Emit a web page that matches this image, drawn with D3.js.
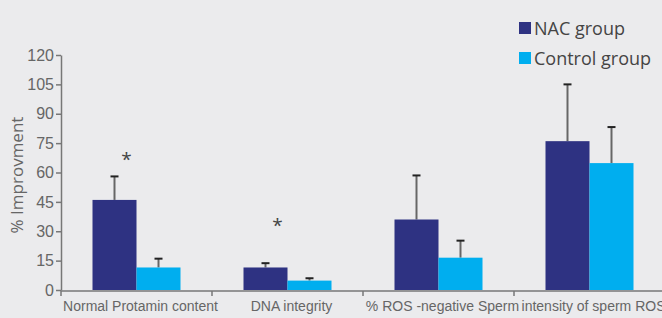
<!DOCTYPE html>
<head>
  <meta charset="utf-8">
  <script src="https://d3js.org/d3.v7.min.js"></script>
  <style>
    body { margin:0; background:#ebebed; }
    svg { display:block; font-family:'Open Sans', sans-serif; }
  </style>
</head>
<body>
  <svg width="662" height="318"></svg>
  <script>
    var categories = ['Normal Protamin content', 'DNA integrity', '% ROS -negative Sperm', 'intensity of sperm ROS'];
    var series = ['NAC group', 'Control group'];
    var nacValues = [46, 11.5, 36, 76];
    var nacErrors = [58, 13.7, 58.5, 105];
    var controlValues = [11.5, 4.8, 16.5, 64.8];
    var controlErrors = [16, 6, 25.2, 83.2];
    var yTicks = [0, 15, 30, 45, 60, 75, 90, 105, 120];
    var stars = [{cat: 'Normal Protamin content', value: 69}, {cat: 'DNA integrity', value: 35}];
    var colors = ['#2e3282', '#00aeef'];

    var width = 662, height = 318;
    var margin = {top: 55, bottom: 28, left: 61};

    var svg = d3.select('svg');

    var xScale = d3.scaleBand()
      .domain(categories)
      .range([margin.left, margin.left + 151 * 4]);

    var yScale = d3.scaleLinear()
      .domain([0, 120])
      .range([290, margin.top]);

    var barW = 44;

    var rows = categories.map((c, i) => ({
      cat: c,
      vals: [
        {s: 0, v: nacValues[i], e: nacErrors[i]},
        {s: 1, v: controlValues[i], e: controlErrors[i]}
      ]
    }));

    var groups = svg.selectAll('g.cat')
      .data(rows)
      .enter().append('g')
      .attr('class', 'cat');

    // error bars
    groups.selectAll('line.err')
      .data(d => d.vals.map(v => Object.assign({cat: d.cat}, v)))
      .enter().append('line')
      .attr('x1', d => xScale(d.cat) + xScale.bandwidth() / 2 + (d.s - 0.5) * barW)
      .attr('x2', d => xScale(d.cat) + xScale.bandwidth() / 2 + (d.s - 0.5) * barW)
      .attr('y1', d => yScale(d.v))
      .attr('y2', d => yScale(d.e))
      .attr('stroke', '#666')
      .attr('stroke-width', 2);

    groups.selectAll('line.cap')
      .data(d => d.vals.map(v => Object.assign({cat: d.cat}, v)))
      .enter().append('line')
      .attr('x1', d => xScale(d.cat) + xScale.bandwidth() / 2 + (d.s - 0.5) * barW - 4)
      .attr('x2', d => xScale(d.cat) + xScale.bandwidth() / 2 + (d.s - 0.5) * barW + 4)
      .attr('y1', d => yScale(d.e))
      .attr('y2', d => yScale(d.e))
      .attr('stroke', '#222')
      .attr('stroke-width', 2);

    // bars
    groups.selectAll('rect')
      .data(d => d.vals.map(v => Object.assign({cat: d.cat}, v)))
      .enter().append('rect')
      .attr('x', d => xScale(d.cat) + xScale.bandwidth() / 2 - barW + d.s * barW)
      .attr('y', d => yScale(d.v))
      .attr('width', barW)
      .attr('height', d => yScale(0) - yScale(d.v))
      .attr('fill', d => colors[d.s]);

    // axes
    var yAxis = d3.axisLeft(yScale).tickValues(yTicks).tickSize(5).tickSizeOuter(0);
    var gy = svg.append('g')
      .attr('transform', 'translate(' + margin.left + ',0)')
      .call(yAxis);
    gy.select('.domain').attr('stroke', '#777').attr('stroke-width', 1.5);
    gy.selectAll('.tick line').attr('stroke', '#777').attr('stroke-width', 1.5);
    gy.selectAll('.tick text')
      .attr('fill', '#666')
      .attr('font-size', 16)
      .attr('x', -7);

    var xAxis = d3.axisBottom(xScale).tickSize(0).tickSizeOuter(0);
    var gx = svg.append('g')
      .attr('transform', 'translate(0,' + (yScale(0) + 1) + ')')
      .call(xAxis);
    gx.select('.domain').attr('d', 'M' + margin.left + ',0H' + width).attr('stroke', '#777').attr('stroke-width', 1.5);
    gx.selectAll('.tick text')
      .attr('fill', '#666')
      .attr('font-size', 14)
      .attr('x', 4)
      .attr('dy', '1.2em');
    // separators between categories
    gx.selectAll('line.sep')
      .data(categories.slice(1))
      .enter().append('line')
      .attr('x1', d => xScale(d))
      .attr('x2', d => xScale(d))
      .attr('y1', 0)
      .attr('y2', 5)
      .attr('stroke', '#777')
      .attr('stroke-width', 1.5);
    gx.append('line')
      .attr('x1', margin.left).attr('x2', margin.left)
      .attr('y1', 0).attr('y2', 5)
      .attr('stroke', '#777').attr('stroke-width', 1.5);

    // y title
    svg.append('text')
      .attr('transform', 'translate(23,175) rotate(-90)')
      .attr('text-anchor', 'middle')
      .attr('fill', '#666')
      .attr('font-size', 17)
      .text('% Improvment');

    // significance stars
    svg.selectAll('text.star')
      .data(stars)
      .enter().append('text')
      .attr('x', d => xScale(d.cat) + xScale.bandwidth() / 2 - 10)
      .attr('y', d => yScale(d.value) + 11)
      .attr('text-anchor', 'middle')
      .attr('fill', '#444')
      .attr('font-size', 19)
      .text('*');

    // legend
    var leg = svg.selectAll('g.leg')
      .data(series)
      .enter().append('g')
      .attr('transform', (d, i) => 'translate(519,' + (22 + i * 30) + ')');
    leg.append('rect')
      .attr('width', 12).attr('height', 12)
      .attr('fill', (d, i) => colors[i]);
    leg.append('text')
      .attr('x', 15).attr('y', 12.5)
      .attr('fill', '#444')
      .attr('font-size', 18)
      .text(d => d);
  </script>
</body>
